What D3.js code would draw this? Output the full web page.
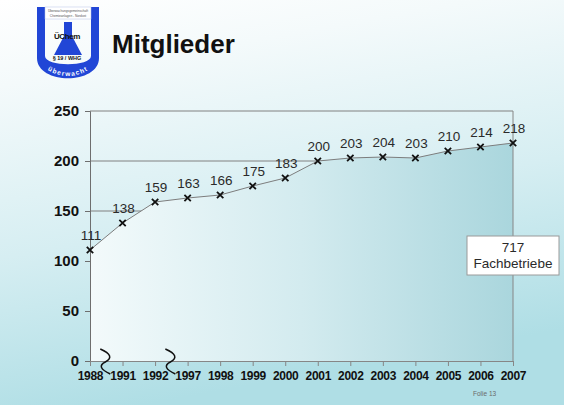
<!DOCTYPE html>
<html>
<head>
<meta charset="utf-8">
<title>Mitglieder</title>
<script src="https://cdn.jsdelivr.net/npm/d3@7"></script>
<style>
    html, body { margin: 0; padding: 0; background: #ffffff; }
    svg { display: block; font-family: Arial, "Liberation Sans", sans-serif; }
</style>
</head>
<body>
<div id="Mitglieder"></div>
<script>

// chart data
var years = ["1988", "1991", "1992", "1997", "1998", "1999", "2000",
             "2001", "2002", "2003", "2004", "2005", "2006", "2007"];
var members = [111, 138, 159, 163, 166, 175, 183, 200, 203, 204, 203, 210, 214, 218];
var yTicks = [0, 50, 100, 150, 200, 250];
var breakAfter = ["1988", "1992"];   // axis breaks sit right of these years
var boxLines = ["717", "Fachbetriebe"];

(function (d3) {

    "use strict";

    var W = 564, H = 405,
        plot = { left: 90, right: 513, top: 111, bottom: 361 };

    var svg = d3.select("#Mitglieder")
        .append("svg")
            .attr("width", W)
            .attr("height", H);

    var defs = svg.append("defs");

    // slide background
    var bg = defs.append("linearGradient")
        .attr("id", "bg").attr("x1", 0).attr("y1", 0).attr("x2", 0.25).attr("y2", 1);
    bg.append("stop").attr("offset", "0").attr("stop-color", "#ffffff");
    bg.append("stop").attr("offset", "0.2").attr("stop-color", "#f4fafb");
    bg.append("stop").attr("offset", "0.6").attr("stop-color", "#d6eef2");
    bg.append("stop").attr("offset", "1").attr("stop-color", "#afdee5");

    // area under the line
    var af = defs.append("linearGradient")
        .attr("id", "areaFill").attr("gradientUnits", "userSpaceOnUse")
        .attr("x1", plot.left).attr("y1", 0).attr("x2", plot.right).attr("y2", 0);
    af.append("stop").attr("offset", "0").attr("stop-color", "#f3fafb");
    af.append("stop").attr("offset", "0.5").attr("stop-color", "#d3ebef");
    af.append("stop").attr("offset", "1").attr("stop-color", "#aad6dd");

    svg.append("rect").attr("width", W).attr("height", H).attr("fill", "url(#bg)");

    // ---- logo
    var logo = svg.append("g").attr("class", "logo"),
        blue = "#2146d6";

    logo.append("path")
        .attr("d", "M37,7 H45 V56 C45,67 91,67 91,56 V7 H99 V58 C99,85 37,85 37,58 Z")
        .attr("fill", blue);
    logo.append("rect").attr("x", 45).attr("y", 7).attr("width", 46).attr("height", 12)
        .attr("fill", "#ffffff").attr("stroke", "#b8c4e8").attr("stroke-width", 0.5);
    logo.append("text").attr("x", 68).attr("y", 12).attr("text-anchor", "middle")
        .attr("font-size", 3.2).attr("fill", "#555").text("Überwachungsgemeinschaft");
    logo.append("text").attr("x", 68).attr("y", 16.5).attr("text-anchor", "middle")
        .attr("font-size", 3.2).attr("fill", "#555").text("Chemieanlagen - Nordost");
    // flask
    logo.append("path")
        .attr("d", "M64,22 H72 V36 L82,55 H54 L64,36 Z")
        .attr("fill", blue);
    logo.append("text").attr("x", 67).attr("y", 39).attr("text-anchor", "middle")
        .attr("font-size", 8).attr("font-weight", "bold").attr("letter-spacing", -0.4)
        .attr("fill", "#111").text("ÜChem");
    logo.append("text").attr("x", 67).attr("y", 60).attr("text-anchor", "middle")
        .attr("font-size", 5.5).attr("font-weight", "bold")
        .attr("fill", "#111").text("§ 19 / WHG");
    defs.append("path").attr("id", "logoArc").attr("d", "M39,64 Q68,88 97,64");
    logo.append("text")
        .attr("font-size", 6.5).attr("font-weight", "bold").attr("fill", "#ffffff")
        .attr("letter-spacing", 1.2)
        .append("textPath")
            .attr("href", "#logoArc").attr("startOffset", "50%").attr("text-anchor", "middle")
            .text("überwacht");

    // title
    svg.append("text")
        .attr("x", 112).attr("y", 53)
        .attr("font-size", 26).attr("font-weight", "bold").attr("fill", "#111")
        .text("Mitglieder");

    // ---- scales
    var x = d3.scalePoint().domain(years).range([plot.left, plot.right]),
        y = d3.scaleLinear().domain([0, 250]).range([plot.bottom, plot.top]);

    var pts = years.map(function (yr, i) { return { year: yr, value: members[i] }; });

    // gridlines (the area covers the lower ones)
    svg.append("g").selectAll("line")
        .data(yTicks.filter(function (t) { return t > 0; }))
        .join("line")
            .attr("x1", plot.left).attr("x2", plot.right)
            .attr("y1", function (d) { return y(d); })
            .attr("y2", function (d) { return y(d); })
            .attr("stroke", "#808080").attr("stroke-width", 1);

    // filled area under the line
    svg.append("path")
        .datum(pts)
        .attr("d", d3.area()
            .x(function (d) { return x(d.year); })
            .y0(y(0))
            .y1(function (d) { return y(d.value); }))
        .attr("fill", "url(#areaFill)");

    // right border of plot
    svg.append("line")
        .attr("x1", plot.right).attr("x2", plot.right)
        .attr("y1", plot.top).attr("y2", plot.bottom)
        .attr("stroke", "#868686");

    // line
    svg.append("path")
        .datum(pts)
        .attr("d", d3.line()
            .x(function (d) { return x(d.year); })
            .y(function (d) { return y(d.value); }))
        .attr("fill", "none").attr("stroke", "#7d7d7d").attr("stroke-width", 1);

    // y axis
    var yAxis = svg.append("g")
        .attr("transform", "translate(" + plot.left + ",0)")
        .call(d3.axisLeft(y).tickValues(yTicks).tickSize(5).tickPadding(6));
    yAxis.select(".domain").attr("stroke", "#6e6e6e");
    yAxis.selectAll(".tick line").attr("stroke", "#6e6e6e");
    yAxis.selectAll("text")
        .attr("font-size", 15).attr("font-weight", "bold").attr("fill", "#111")
        .attr("font-family", "Arial, 'Liberation Sans', sans-serif");

    // x axis
    var xAxis = svg.append("g")
        .attr("transform", "translate(0," + plot.bottom + ")")
        .call(d3.axisBottom(x).tickSize(5).tickPadding(5).tickSizeOuter(0));
    xAxis.select(".domain").attr("stroke", "#868686");
    xAxis.selectAll(".tick line").attr("stroke", "#868686");
    xAxis.selectAll("text")
        .attr("font-size", 12).attr("font-weight", "bold").attr("fill", "#111")
        .attr("letter-spacing", -0.3)
        .attr("font-family", "Arial, 'Liberation Sans', sans-serif");

    // axis break squiggles
    var step = x.step();
    svg.append("g").selectAll("path")
        .data(breakAfter)
        .join("path")
            .attr("d", function (d) {
                var cx = x(d) + step / 2 - 1, b = plot.bottom;
                return "M" + (cx - 5) + "," + (b - 12) +
                    " Q" + (cx + 11) + "," + (b - 5) + " " + cx + "," + (b + 1) +
                    " Q" + (cx - 10) + "," + (b + 6) + " " + (cx + 5) + "," + (b + 13);
            })
            .attr("fill", "none").attr("stroke", "#111").attr("stroke-width", 1.5);

    // markers
    svg.append("g").selectAll("path")
        .data(pts)
        .join("path")
            .attr("d", function (d) {
                var cx = x(d.year), cy = y(d.value), s = 3.2;
                return "M" + (cx - s) + "," + (cy - s) + "L" + (cx + s) + "," + (cy + s) +
                       "M" + (cx - s) + "," + (cy + s) + "L" + (cx + s) + "," + (cy - s);
            })
            .attr("stroke", "#111").attr("stroke-width", 1.8);

    // value labels
    svg.append("g").selectAll("text")
        .data(pts)
        .join("text")
            .attr("x", function (d) { return x(d.year) + 1; })
            .attr("y", function (d) { return y(d.value) - 10; })
            .attr("text-anchor", "middle")
            .attr("font-size", 13.5).attr("fill", "#2a2a2a")
            .text(function (d) { return d.value; });

    // text box
    var box = svg.append("g").attr("transform", "translate(467,236)");
    box.append("rect").attr("width", 92).attr("height", 39)
        .attr("fill", "#ffffff").attr("stroke", "#9a9a9a");
    box.selectAll("text")
        .data(boxLines)
        .join("text")
            .attr("x", 46).attr("y", function (d, i) { return 16 + i * 16; })
            .attr("text-anchor", "middle")
            .attr("font-size", 13.5).attr("fill", "#2a2a2a")
            .text(function (d) { return d; });

    // slide number
    svg.append("text")
        .attr("x", 473).attr("y", 396)
        .attr("font-size", 6.5).attr("fill", "#6a6a6a")
        .text("Folie 13");

}(d3));
</script>
</body>
</html>
